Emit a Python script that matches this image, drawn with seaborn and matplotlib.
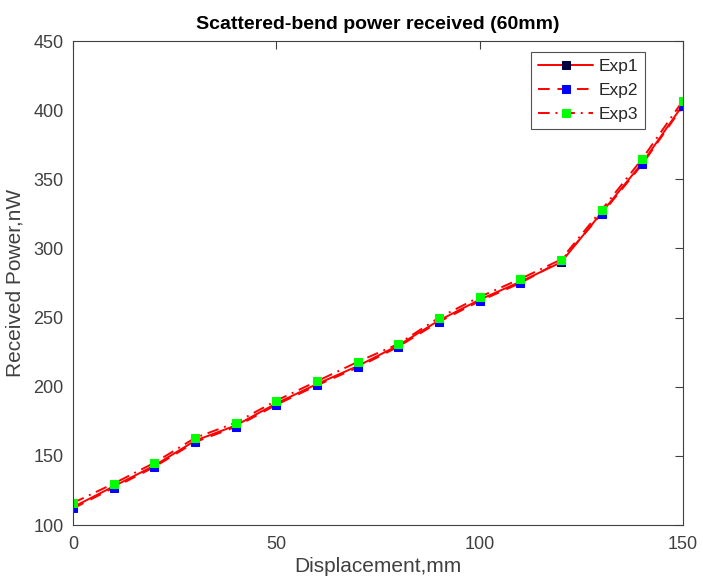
import matplotlib
matplotlib.use("Agg")
import matplotlib.pyplot as plt
import seaborn as sns
import pandas as pd

sns.set_theme(style="white")
plt.rcParams['font.family'] = ['Liberation Sans', 'DejaVu Sans']

displacement = [0, 10, 20, 30, 40, 50, 60, 70, 80, 90, 100, 110, 120, 130, 140, 150]
exp1 = [113, 128, 143, 161, 172, 188, 202, 215, 230, 248, 263, 276, 290, 326, 362, 404]
exp2 = [112, 127, 142, 160, 171, 187, 201, 214, 229, 247, 262, 275, 291, 325, 361, 403]
exp3 = [116, 130, 145, 163, 174, 190, 204, 218, 231, 250, 265, 278, 292, 328, 365, 407]

series_names = ["Exp1", "Exp2", "Exp3"]
series_values = [exp1, exp2, exp3]
marker_colors = ["#000040", "#0000ff", "#00ff00"]
line_styles = ["-", (0, (6, 4)), (0, (6, 3, 1, 3))]

fig = plt.figure(figsize=(7.03, 5.87), dpi=100)
ax = fig.add_axes([0.104, 0.1056, 0.8676, 0.8244])

for name, vals, mc, ls in zip(series_names, series_values, marker_colors, line_styles):
    df = pd.DataFrame({"x": displacement, "y": vals})
    sns.lineplot(data=df, x="x", y="y", ax=ax, color="#ff0000", linewidth=1.4,
                 linestyle=ls, marker="s", markersize=6, markerfacecolor=mc,
                 markeredgecolor=mc, label=name)

ax.set_xlim(0, 150)
ax.set_ylim(100, 450)
ax.set_xticks([0, 50, 100, 150])
ax.set_yticks([100, 150, 200, 250, 300, 350, 400, 450])
ax.tick_params(direction="in", top=True, right=True, length=6, width=0.8,
               labelsize=13, colors="#404040")
ax.tick_params(axis="x", pad=8)
ax.tick_params(axis="y", pad=7)
for s in ax.spines.values():
    s.set_color("#404040")
    s.set_linewidth(0.8)
    s.set_visible(True)

ax.set_xlabel("Displacement,mm", fontsize=15, color="#404040", labelpad=3)
ax.set_ylabel("Received Power,nW", fontsize=15, color="#404040", labelpad=6)
ax.set_title("Scattered-bend power received (60mm)", fontsize=14, fontweight="bold",
             color="black", pad=9)

leg = ax.legend(loc="upper right", bbox_to_anchor=(0.938, 0.977), fontsize=12.5,
                frameon=True, fancybox=False, handlelength=3.2, borderpad=0.4,
                labelspacing=0.5, handletextpad=0.3, borderaxespad=0)
leg.get_frame().set_edgecolor("#262626")
leg.get_frame().set_linewidth(0.8)
for t in leg.get_texts():
    t.set_color("#262626")

fig.savefig("out.png", dpi=100)
